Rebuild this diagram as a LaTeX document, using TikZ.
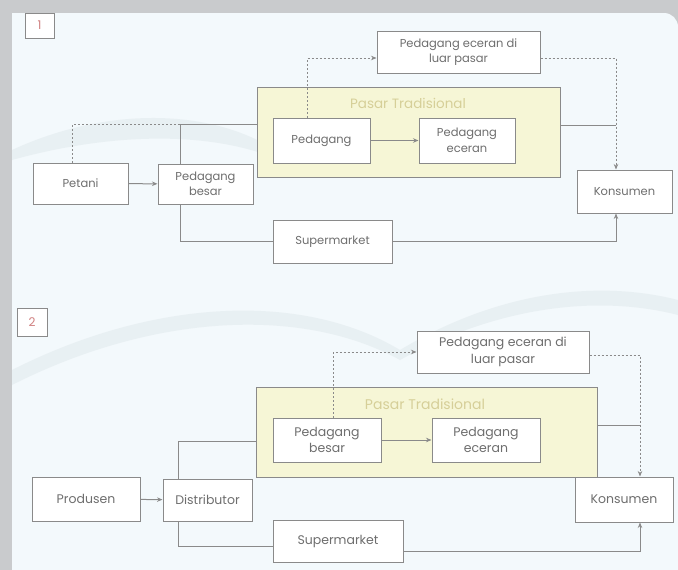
\documentclass[tikz,border=0pt]{standalone}
\usepackage{fontspec}
\setmainfont{Poppins}
\usetikzlibrary{arrows.meta,calc}
\definecolor{bgc}{HTML}{F3F9FC}
\definecolor{shadowc}{HTML}{C9CBCD}
\definecolor{linec}{HTML}{8A8A8A}
\definecolor{txtc}{HTML}{6E6E6E}
\definecolor{pasarfill}{HTML}{F6F6D6}
\definecolor{pasartxt}{HTML}{D6CF98}
\definecolor{numc}{HTML}{D08080}
\definecolor{swoosh}{HTML}{E6EEF1}
\tikzset{
  box/.style={draw=linec, line width=1pt, fill=white, text=txtc, align=center, inner sep=0pt, font=\fontsize{11.5}{15.5}\selectfont},
  boxb/.style={box, font=\fontsize{12.5}{16.5}\selectfont},
  pasarbox/.style={draw=linec, line width=1pt, fill=pasarfill, inner sep=0pt},
  numbox/.style={draw=linec, line width=0.8pt, fill=white, text=numc, inner sep=0pt, font=\fontsize{12}{13}\selectfont},
  conn/.style={draw=linec, line width=1pt},
  dconn/.style={conn, dash pattern=on 2pt off 2pt},
  arr/.style={-{Stealth[length=5.5pt,width=4.5pt]}},
  ptitle/.style={text=pasartxt, inner sep=0pt, font=\fontsize{13.5}{15}\selectfont}
}
\begin{document}
\begin{tikzpicture}[x=1pt,y=-1pt]
% background and frame
\fill[shadowc] (0,0) rectangle (678,570);
\fill[bgc] (12,13) -- (664,13) to[out=0,in=90] (678,27) -- (678,570) -- (12,570) -- cycle;
\useasboundingbox (0,0) rectangle (678,570);
% faint swooshes
\fill[swoosh,opacity=0.8] (12,150) .. controls (120,100) and (240,110) .. (300,170) .. controls (230,130) and (120,130) .. (12,160) -- cycle;
\fill[swoosh,opacity=0.8] (12,370) .. controls (150,300) and (300,290) .. (400,350) .. controls (500,290) and (600,280) .. (678,300) -- (678,315) .. controls (600,295) and (500,305) .. (400,360) .. controls (300,305) and (150,315) .. (12,385) -- cycle;

% ================= Section 1 =================
\node[numbox, minimum width=29pt, minimum height=25pt] (n1) at (39.5,25.5) {1};
\node[pasarbox, minimum width=303pt, minimum height=90pt] (pasar1) at (408.5,132) {};
\node[ptitle] (pt1) at (408,103) {Pasar Tradisional};
\node[box, minimum width=95pt, minimum height=41pt] (petani) at (80.5,183.5) {Petani};
\node[box, minimum width=95pt, minimum height=40pt] (pbesar1) at (205.5,184) {Pedagang\\besar};
\node[box, minimum width=97pt, minimum height=45pt] (pedagang1) at (321.5,140.5) {Pedagang};
\node[box, minimum width=96pt, minimum height=45pt] (eceran1) at (467,140.5) {Pedagang\\eceran};
\node[box, minimum width=163pt, minimum height=42pt] (luar1) at (458.5,52) {Pedagang eceran di\\luar pasar};
\node[box, minimum width=95pt, minimum height=43pt] (kons1) at (624.5,191.5) {Konsumen};
\node[box, minimum width=119pt, minimum height=43pt] (super1) at (332.5,241.5) {Supermarket};
\coordinate (j1) at (180,124);
\coordinate (k1) at (616,125);

\draw[conn,arr] (petani) -- (pbesar1);
\draw[dconn] ([xshift=-8pt]petani.north) |- (j1);
\draw[conn] (pbesar1.north -| j1) -- (j1) -- (j1 -| pasar1.west);
\draw[conn] (pbesar1.south -| j1) |- (super1.west);
\draw[conn,arr] (pedagang1) -- (eceran1);
\draw[dconn,arr] ([xshift=-14.5pt]pedagang1.north) |- ([yshift=-6pt]luar1.west);
\draw[dconn,arr] ([yshift=-6pt]luar1.east) -| ([xshift=-8.5pt]kons1.north);
\draw[conn] (pasar1.east |- k1) -- (k1);
\draw[conn,arr] (super1.east) -| ([xshift=-8.5pt]kons1.south);

% ================= Section 2 =================
\node[numbox, minimum width=30pt, minimum height=28pt] (n2) at (32,322) {2};
\node[pasarbox, minimum width=341pt, minimum height=90pt] (pasar2) at (426.5,432) {};
\node[ptitle, font=\fontsize{14}{15}\selectfont] (pt2) at (425,404) {Pasar Tradisional};
\node[boxb, minimum width=108pt, minimum height=44pt] (produsen) at (86,499) {Produsen};
\node[boxb, minimum width=89pt, minimum height=42pt] (distrib) at (207.5,500) {Distributor};
\node[boxb, minimum width=108pt, minimum height=44pt] (pbesar2) at (327,440) {Pedagang\\besar};
\node[boxb, minimum width=108pt, minimum height=44pt] (eceran2) at (486,440) {Pedagang\\eceran};
\node[boxb, minimum width=172pt, minimum height=42pt] (luar2) at (503,352) {Pedagang eceran di\\luar pasar};
\node[boxb, minimum width=98pt, minimum height=45pt] (kons2) at (624,499.5) {Konsumen};
\node[boxb, minimum width=130pt, minimum height=42pt] (super2) at (338,541) {Supermarket};
\coordinate (j2) at (178,441);
\coordinate (k2) at (640,425);

\draw[conn,arr] (produsen) -- (distrib);
\draw[conn] (distrib.north -| j2) -- (j2) -- (j2 -| pasar2.west);
\draw[conn] (distrib.south -| j2) -- (178,546) -- (super2.west |- 0,546);
\draw[conn,arr] (pbesar2) -- (eceran2);
\draw[dconn,arr] ([xshift=6pt]pbesar2.north) |- (luar2.west);
\draw[dconn,arr] ([yshift=-3pt]luar2.east) -| (kons2.north -| k2);
\draw[conn] (pasar2.east |- k2) -- (k2);
\draw[conn,arr] ([yshift=-10pt]super2.east) -| (kons2.south -| k2);
\end{tikzpicture}
\end{document}
